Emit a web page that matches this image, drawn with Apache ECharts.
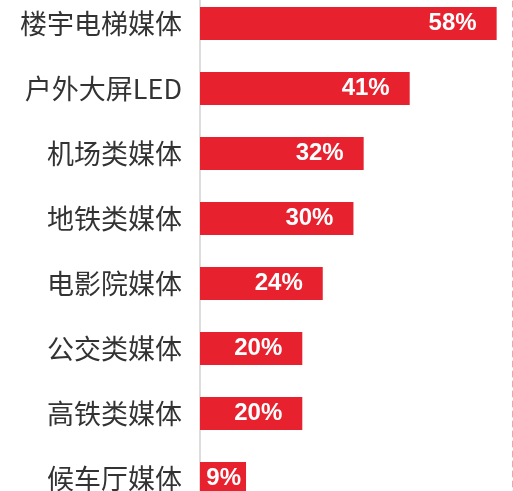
<!DOCTYPE html>
<html>
<head>
<meta charset="utf-8">
<script src="https://cdn.jsdelivr.net/npm/echarts@6/dist/echarts.min.js"></script>
<style>
  html, body { margin: 0; padding: 0; background: #fff; }
  #chart { width: 513px; height: 491px; }
</style>
</head>
<body>
<div id="chart"></div>
<script>
// media channels, top to bottom
const categories = ['楼宇电梯媒体', '户外大屏LED', '机场类媒体', '地铁类媒体', '电影院媒体', '公交类媒体', '高铁类媒体', '候车厅媒体']
const shares = [58, 41, 32, 30, 24, 20, 20, 9]

const barColor = '#e8212f'

const chart = echarts.init(document.getElementById('chart'))

chart.setOption({
  animation: false,
  grid: {
    left: 200,
    width: 312,
    top: -9,
    height: 520,
    outerBoundsMode: 'none',
    containLabel: false
  },
  xAxis: {
    type: 'value',
    min: 0,
    max: 61,
    show: false
  },
  yAxis: [{
    type: 'category',
    inverse: true,
    data: categories,
    axisLine: { lineStyle: { color: '#dddddd', width: 2 } },
    axisTick: { show: false },
    axisLabel: {
      color: '#333',
      fontSize: 27,
      margin: 18,
      fontFamily: 'Noto Sans CJK SC'
    }
  }, {
    type: 'category',
    position: 'right',
    inverse: true,
    data: categories,
    axisLine: { lineStyle: { color: '#f5a3aa', width: 1, type: [6, 4] } },
    axisTick: { show: false },
    axisLabel: { show: false }
  }],
  series: [{
    type: 'bar',
    barWidth: 33,
    itemStyle: { color: barColor },
    label: {
      show: true,
      position: 'insideRight',
      distance: 20,
      color: '#fff',
      fontSize: 24,
      fontWeight: 'bold',
      fontFamily: 'Liberation Sans',
      formatter: '{c}%'
    },
    // short bars keep the label tucked inside
    data: shares.map(v => v < 10 ? { value: v, label: { distance: 5 } } : v)
  }]
})
</script>
</body>
</html>
